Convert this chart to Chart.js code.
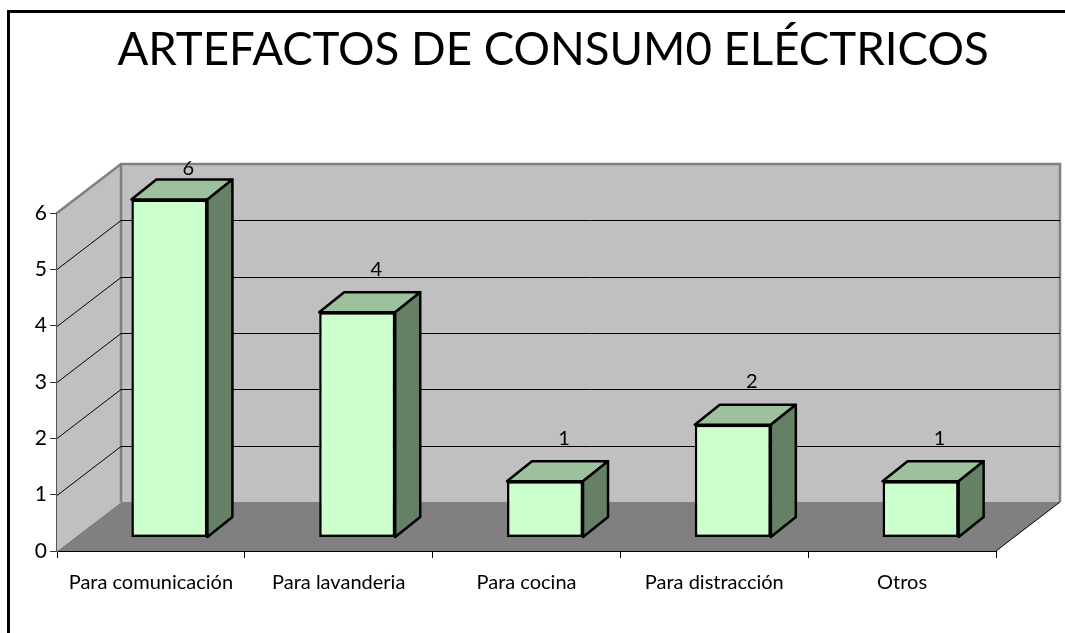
<!DOCTYPE html>
<html>
<head>
<meta charset="utf-8">
<style>
  html, body { margin: 0; padding: 0; background: #fff; overflow: hidden; }
  #wrap { position: relative; width: 1065px; height: 633px; }
  #wrap:before { content: ''; position: absolute; left: 7px; top: 10px; right: 0; bottom: 0;
    border-left: 3px solid #000; border-top: 3px solid #000; }
</style>
<script src="https://cdn.jsdelivr.net/npm/chart.js@4/dist/chart.umd.min.js"></script>
</head>
<body>
<div id="wrap"><canvas id="chart" width="1065" height="633"></canvas></div>
<script>
"use strict";

var categories = ['Para comunicación', 'Para lavanderia', 'Para cocina', 'Para distracción', 'Otros'];
var values = [6, 4, 1, 2, 1];
var yTicks = [0, 1, 2, 3, 4, 5, 6];
var chartTitle = 'ARTEFACTOS DE CONSUM0 ELÉCTRICOS';

var FONT = 'Lato, "Open Sans", sans-serif';
// depth of the box and of the bars, in pixels
var WALL_DX = 64, WALL_DY = -49;
var BAR_SHIFT_X = 18.5, BAR_SHIFT_Y = -13.5;
var BAR_DX = 25, BAR_DY = -20;

function poly(ctx, pts, fill, stroke, width) {
    ctx.beginPath();
    pts.forEach(function (p, i) {
        if (i) { ctx.lineTo(p[0], p[1]); } else { ctx.moveTo(p[0], p[1]); }
    });
    ctx.closePath();
    if (fill) { ctx.fillStyle = fill; ctx.fill(); }
    if (stroke) { ctx.strokeStyle = stroke; ctx.lineWidth = width; ctx.lineJoin = 'round'; ctx.stroke(); }
}

var box3d = {
    id: 'box3d',
    afterLayout: function (chart) {
        // title is not centred on the page in the original
        chart.titleBlock.left += 55;
        chart.titleBlock.right += 55;
    },
    beforeDatasetsDraw: function (chart) {
        var ctx = chart.ctx, a = chart.chartArea, y = chart.scales.y;
        var l = a.left, r = a.right, t = a.top, b = a.bottom;
        var dx = WALL_DX, dy = WALL_DY;
        ctx.save();
        // floor
        poly(ctx, [[l, b], [l + dx, b + dy], [r + dx, b + dy], [r, b]], '#808080');
        // side wall and back wall
        poly(ctx, [[l, t], [l + dx, t + dy], [l + dx, b + dy], [l, b]], '#c0c0c0');
        poly(ctx, [[l + dx, t + dy], [r + dx, t + dy], [r + dx, b + dy], [l + dx, b + dy]], '#c0c0c0');
        ctx.strokeStyle = '#808080';
        ctx.lineWidth = 2.5;
        ctx.beginPath();
        ctx.moveTo(l, t);
        ctx.lineTo(l + dx, t + dy);
        ctx.lineTo(r + dx, t + dy);
        ctx.lineTo(r + dx, b + dy);
        ctx.moveTo(l + dx, t + dy);
        ctx.lineTo(l + dx, b + dy);
        ctx.stroke();
        // grid lines
        ctx.strokeStyle = '#000';
        ctx.lineWidth = 1;
        ctx.beginPath();
        yTicks.forEach(function (v) {
            if (v === 0 || v === 6) { return; }
            var py = Math.round(y.getPixelForValue(v)) + 0.5;
            ctx.moveTo(l, py);
            ctx.lineTo(l + dx, py + dy);
            ctx.lineTo(r + dx, py + dy);
        });
        // open edge of the floor on the right
        ctx.moveTo(r, b);
        ctx.lineTo(r + dx, b + dy);
        ctx.stroke();
        ctx.restore();
    },
    beforeDatasetDraw: function (chart, args) {
        var ctx = chart.ctx;
        ctx.save();
        ctx.translate(BAR_SHIFT_X, BAR_SHIFT_Y);
        args.meta.data.forEach(function (bar) {
            var x0 = bar.x - bar.width / 2, x1 = bar.x + bar.width / 2;
            var top = bar.y, bot = bar.base;
            poly(ctx, [[x0, top], [x0 + BAR_DX, top + BAR_DY], [x1 + BAR_DX, top + BAR_DY], [x1, top]], '#9dc19d', '#000', 2.5);
            poly(ctx, [[x1, top], [x1 + BAR_DX, top + BAR_DY], [x1 + BAR_DX, bot + BAR_DY], [x1, bot]], '#668066', '#000', 2.5);
        });
    },
    afterDatasetDraw: function (chart, args) {
        var ctx = chart.ctx;
        ctx.restore();
        ctx.save();
        ctx.fillStyle = '#000';
        ctx.font = '20px ' + FONT;
        ctx.textAlign = 'center';
        ctx.textBaseline = 'middle';
        args.meta.data.forEach(function (bar, i) {
            var ly = Math.max(chart.chartArea.top + WALL_DY + 5, bar.y + BAR_SHIFT_Y - 43);
            ctx.fillText(String(values[i]), bar.x + BAR_SHIFT_X + 19, ly);
        });
        ctx.restore();
    }
};

new Chart(document.getElementById('chart'), {
    type: 'bar',
    data: {
        labels: categories,
        datasets: [{
            data: values,
            backgroundColor: '#ccffcc',
            borderColor: '#000',
            borderWidth: 2.5,
            borderSkipped: false,
            categoryPercentage: 1,
            barPercentage: 0.405
        }]
    },
    options: {
        responsive: false,
        animation: false,
        layout: {padding: {top: 0, left: 0, right: 69, bottom: 0}},
        plugins: {
            legend: {display: false},
            tooltip: {enabled: false},
            title: {
                display: true,
                text: chartTitle,
                color: '#000',
                font: {family: FONT, size: 45.6, weight: 'normal', lineHeight: 1},
                padding: {top: 27, bottom: 140.4}
            }
        },
        scales: {
            x: {
                afterFit: function (scale) { scale.height = 82; },
                border: {color: '#000', width: 1},
                grid: {drawOnChartArea: false, tickLength: 7, tickColor: '#000', offset: true},
                ticks: {color: '#000', padding: 12.5, maxRotation: 0, autoSkip: false, font: {family: FONT, size: 20}}
            },
            y: {
                min: 0,
                max: 6,
                afterFit: function (scale) { scale.width = 57; },
                afterBuildTicks: function (scale) {
                    scale.ticks = yTicks.map(function (v) { return {value: v}; });
                },
                border: {color: '#555', width: 2},
                grid: {drawOnChartArea: false, tickLength: 7, tickColor: '#333'},
                ticks: {color: '#000', padding: 3, font: {family: FONT, size: 21}}
            }
        }
    },
    plugins: [box3d]
});
</script>
</body>
</html>
